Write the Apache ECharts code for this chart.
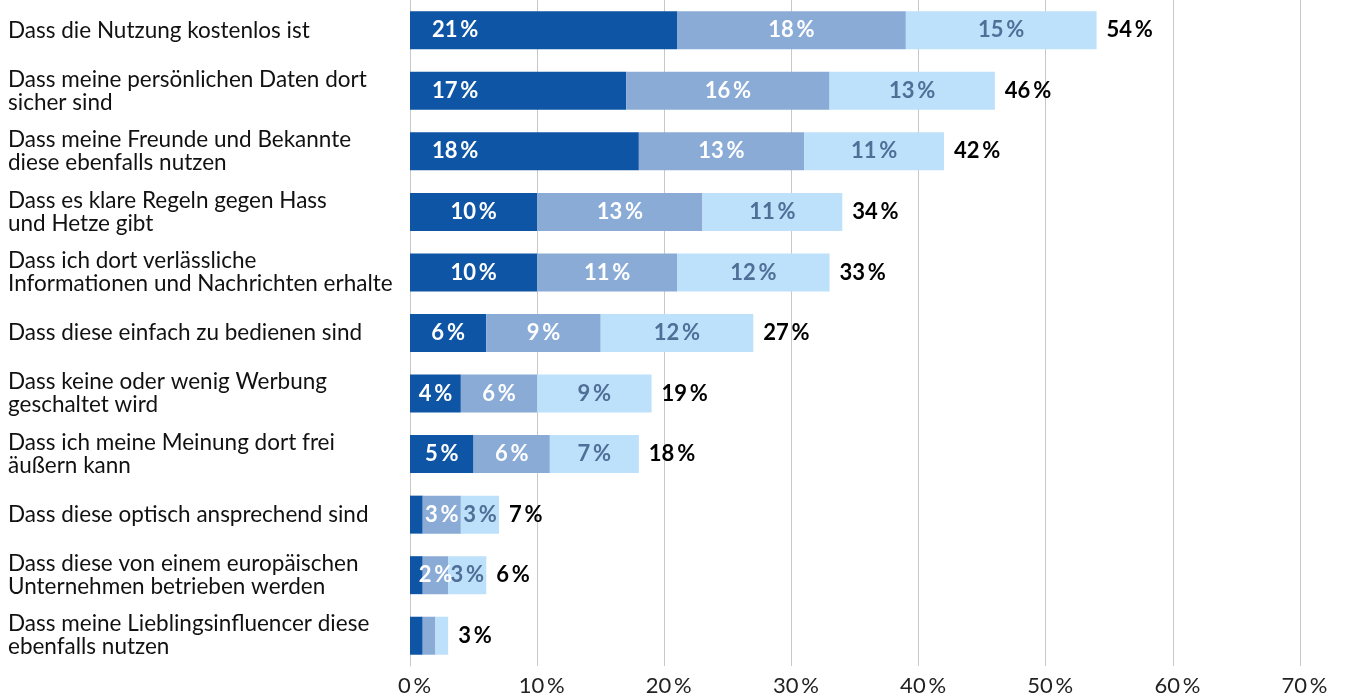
<!DOCTYPE html>
<html><head><meta charset="utf-8">
<script src="https://cdn.jsdelivr.net/npm/echarts@6/dist/echarts.min.js"></script>
<style>html,body{margin:0;padding:0;background:#fff}#c{width:1345px;height:699px}</style>
</head><body><div id="c"></div>
<script>
const categories = [
  "Dass die Nutzung kostenlos ist",
  "Dass meine persönlichen Daten dort\nsicher sind",
  "Dass meine Freunde und Bekannte\ndiese ebenfalls nutzen",
  "Dass es klare Regeln gegen Hass\nund Hetze gibt",
  "Dass ich dort verlässliche\nInformationen und Nachrichten erhalte",
  "Dass diese einfach zu bedienen sind",
  "Dass keine oder wenig Werbung\ngeschaltet wird",
  "Dass ich meine Meinung dort frei\näußern kann",
  "Dass diese optisch ansprechend sind",
  "Dass diese von einem europäischen\nUnternehmen betrieben werden",
  "Dass meine Lieblingsinfluencer diese\nebenfalls nutzen"
];
const seriesA = [21, 17, 18, 10, 10, 6, 4, 5, 1, 1, 1];
const seriesB = [18, 16, 13, 13, 11, 9, 6, 6, 3, 2, 1];
const seriesC = [15, 13, 11, 11, 12, 12, 9, 7, 3, 3, 1];
const totals  = [54, 46, 42, 34, 33, 27, 19, 18, 7, 6, 3];
const xTicks = [0, 10, 20, 30, 40, 50, 60, 70];

const font = 'Lato, "Noto Sans", sans-serif';
const TS = '\u2009';
const fmt = p => p.value >= 2 ? p.value + TS + '%' : '';
function seg(name, values, color, labelColor, leftAlignBig) {
  const data = values.map(v => (leftAlignBig && v > 12)
    ? { value: v, label: { position: 'insideLeft', distance: 22 } }
    : v);
  return {
    name, type: 'bar', stack: 's', data, barWidth: 38,
    itemStyle: { color },
    label: { show: true, position: 'inside', formatter: fmt, color: labelColor,
      fontFamily: font, fontWeight: 'bold', fontSize: 22 },
    silent: true
  };
}
const chart = echarts.init(document.getElementById('c'));
chart.setOption({
  animation: false,
  grid: { left: 410, right: 45, top: 0, bottom: 33, containLabel: false },
  xAxis: {
    type: 'value', min: 0, max: 70, interval: 10,
    axisLine: { show: false }, axisTick: { show: false },
    splitLine: { lineStyle: { color: '#c8c8c8', width: 1 } },
    axisLabel: { formatter: v => xTicks.includes(v) ? v + TS + '%' : '', color: '#222',
      fontFamily: font, fontSize: 22, margin: 9, padding: [0, 0, 0, 9] }
  },
  yAxis: {
    type: 'category', data: categories, inverse: true,
    axisLine: { show: true, lineStyle: { color: '#c8c8c8' } }, axisTick: { show: false },
    axisLabel: { align: 'left', margin: 402, color: '#111', fontFamily: font,
      fontSize: 22.5, lineHeight: 23 }
  },
  series: [
    seg('A', seriesA, '#0f55a5', '#ffffff', true),
    seg('B', seriesB, '#8aabd6', '#ffffff', false),
    seg('C', seriesC, '#bde0fb', '#4f6f97', false),
    {
      name: 'Total', type: 'bar', stack: 's', data: totals.map(() => 0), barWidth: 38,
      itemStyle: { color: 'transparent' },
      label: { show: true, position: 'right', distance: 10,
        formatter: p => totals[p.dataIndex] + TS + '%', color: '#000',
        fontFamily: font, fontWeight: 'bold', fontSize: 22 },
      silent: true
    }
  ]
});
</script></body></html>
